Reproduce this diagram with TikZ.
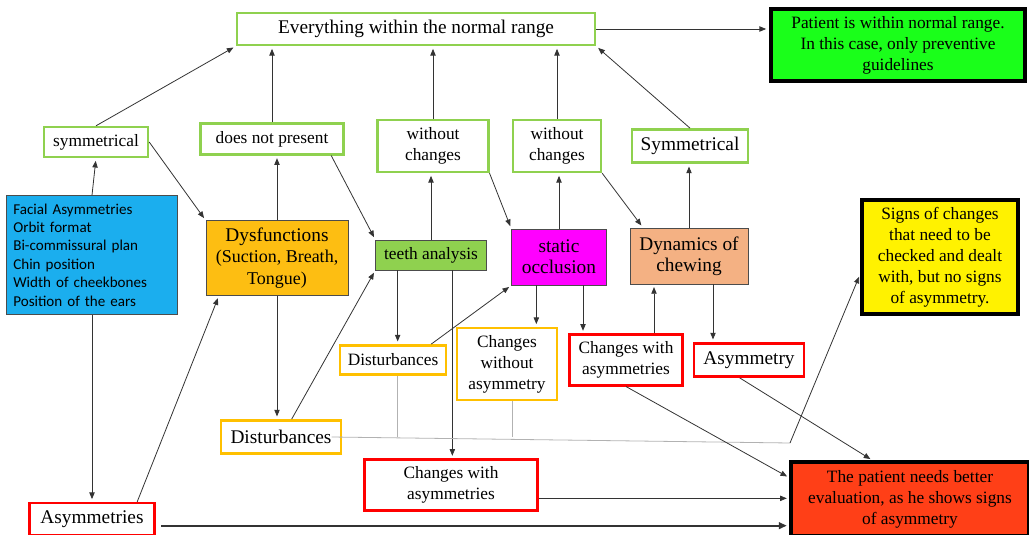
\documentclass[tikz,border=0pt]{standalone}
\usepackage{fontspec}
\setmainfont{Liberation Serif}
\newfontfamily\calib{Carlito}
\usepackage{tikz}
\usetikzlibrary{arrows.meta,positioning}

\definecolor{lgreen}{HTML}{8FD14F}
\definecolor{okgreen}{HTML}{1AFF1A}
\definecolor{gold}{HTML}{FFC000}
\definecolor{dysfill}{HTML}{FDBE12}
\definecolor{skyfill}{HTML}{1BAEEE}
\definecolor{peach}{HTML}{F4B183}
\definecolor{pinkfill}{HTML}{FF00FF}
\definecolor{alarm}{HTML}{FF3F17}

\begin{document}
\begin{tikzpicture}[x=0.75pt, y=-0.75pt]
    \tikzset{base/.style={rectangle, inner sep=0pt, align=center, font=\fontsize{13}{15.75}\selectfont}}
    \tikzset{big/.style={font=\fontsize{14.5}{16}\selectfont}}
    \tikzset{okbox/.style={base, draw=lgreen, line width=1.8pt, fill=white}}
    \tikzset{distbox/.style={base, draw=gold, line width=1.8pt, fill=white}}
    \tikzset{asymbox/.style={base, draw=red, line width=1.8pt, fill=white}}
    \tikzset{areabox/.style={base, big, draw=black!70, line width=0.6pt}}
    \tikzset{resultbox/.style={base, draw=black, line width=2.8pt}}
    \tikzset{link/.style={draw=black!80, line width=0.6pt, shorten >=2pt, -{Triangle[length=5pt, width=4pt]}}}
    \tikzset{joinline/.style={draw=black!30, line width=0.6pt}}

    \useasboundingbox (0,0) rectangle (1029,535);

    % TOP ROW
    \node[okbox, big, minimum width=268.5pt, minimum height=24pt] (top) at (416,29) {Everything within the normal range};
    \node[resultbox, fill=okgreen, minimum width=191pt, minimum height=54pt] (normal) at (898,45)
        {Patient is within normal range.\\In this case, only preventive\\guidelines};

    % OUTCOME NODES ABOVE THE AREAS
    \node[okbox, minimum width=78pt, minimum height=22.5pt] (sym) at (96,142) {symmetrical};
    \node[okbox, minimum width=107pt, minimum height=23pt] (dnp) at (272,139) {does not present};
    \node[okbox, minimum width=83pt, minimum height=39pt] (wcA) at (433,146) {without\\changes};
    \node[okbox, minimum width=66pt, minimum height=39pt] (wcB) at (557,146) {without\\changes};
    \node[okbox, big, minimum width=87pt, minimum height=25pt] (Sym) at (690,146) {Symmetrical};

    % AREAS OF ANALYSIS
    \node[base, draw=black!70, line width=0.6pt, fill=skyfill, minimum width=128pt, minimum height=89pt,
        text width=118pt, align=left, font=\calib\fontsize{11.3}{13.8}\selectfont] (facial) at (92,255)
        {Facial Asymmetries\\Orbit format\\Bi-commissural plan\\Chin position\\Width of cheekbones\\Position of the ears};
    \node[areabox, fill=dysfill, minimum width=106.5pt, minimum height=56pt] (dysf) at (277,258)
        {Dysfunctions\\{\fontsize{13.5}{16}\selectfont(Suction, Breath,}\\{\fontsize{13.5}{16}\selectfont Tongue)}};
    \node[base, draw=black!70, line width=0.6pt, fill=lgreen, minimum width=83pt, minimum height=22.5pt] (teeth) at (431,255) {teeth analysis};
    \node[areabox, fill=pinkfill, minimum width=71pt, minimum height=42pt] (static) at (559,257) {static\\occlusion};
    \node[areabox, fill=peach, minimum width=88.5pt, minimum height=42pt] (dyn) at (689,256) {Dynamics of\\chewing};
    \node[resultbox, fill=yellow, minimum width=117pt, minimum height=85pt] (signs) at (940,257)
        {Signs of changes\\that need to be\\checked and dealt\\with, but no signs\\of asymmetry.};

    % FINDINGS
    \node[distbox, minimum width=79.5pt, minimum height=22pt] (distS) at (393,360) {Disturbances};
    \node[distbox, minimum width=75pt, minimum height=54pt] (cwo) at (507,364) {Changes\\without\\asymmetry};
    \node[asymbox, minimum width=85pt, minimum height=38pt] (cwaU) at (626,360) {Changes with\\asymmetries};
    \node[asymbox, big, minimum width=82.5pt, minimum height=25pt] (asymR) at (749,360) {Asymmetry};
    \node[distbox, big, minimum width=90pt, minimum height=25pt] (distL) at (281,437) {Disturbances};
    \node[asymbox, minimum width=130pt, minimum height=38pt] (cwaL) at (451,485) {Changes with\\asymmetries};
    \node[asymbox, big, minimum width=94pt, minimum height=24pt] (asymL) at (92,519) {Asymmetries};
    \node[resultbox, fill=alarm, minimum width=178pt, minimum height=55pt] (better) at (910,499)
        {The patient needs better\\evaluation, as he shows signs\\of asymmetry};

    % ARROWS TO THE NORMAL RANGE
    \draw[link] (sym.north) -- (top.south west);
    \draw[link] (dnp.north) -- (dnp.north |- top.south);
    \draw[link] (wcA.north) -- (wcA.north |- top.south);
    \draw[link] (wcB.north) -- (wcB.north |- top.south);
    \draw[link] (Sym.north) -- (top.south east);
    \draw[link] (top.east) -- (top.east -| normal.west);

    % ARROWS FROM THE AREAS
    \draw[link] (facial.north) -- (sym.south);
    \draw[link] (sym.east) -- (dysf.north west);
    \draw[link] (dysf.north) -- (dysf.north |- dnp.south);
    \draw[link] ([xshift=-10pt]dnp.south east) -- (teeth.north west);
    \draw[link] (teeth.north) -- (teeth.north |- wcA.south);
    \draw[link] (wcA.south east) -- (static.north west);
    \draw[link] (static.north) -- (static.north |- wcB.south);
    \draw[link] (wcB.south east) -- ([xshift=10pt]dyn.north west);
    \draw[link] (dyn.north) -- (dyn.north |- Sym.south);
    \draw[link] (facial.south) -- (facial.south |- asymL.north);
    \draw[link] ([xshift=-14pt]asymL.north east) -- ([xshift=10pt]dysf.south west);
    \draw[link] (dysf.south) -- (dysf.south |- distL.north);
    \draw[link] ([xshift=8pt]distL.north) -- (teeth.south west);
    \draw[link] ([xshift=-25pt]teeth.south) -- ([xshift=-25pt]teeth.south |- distS.north);
    \draw[link] ([xshift=16pt]teeth.south) -- ([xshift=16pt]teeth.south |- cwaL.north);
    \draw[link] ([xshift=-12pt]distS.north east) -- (static.south west);
    \draw[link] ([xshift=-17pt]static.south) -- ([xshift=-17pt]static.south |- cwo.north);
    \draw[link] ([xshift=18pt]static.south) -- ([xshift=18pt]static.south |- cwaU.north);
    \draw[link] ([xshift=21pt]cwaU.north) -- ([xshift=21pt]cwaU.north |- dyn.south);
    \draw[link] ([xshift=18pt]dyn.south) -- ([xshift=18pt]dyn.south |- asymR.north);

    % DISTURBANCES TO THE SIGNS OF CHANGES
    \coordinate (bend) at (790,443);
    \draw[joinline] ([xshift=3pt]distS.south) -- ([xshift=3pt]distS.south |- distL.east);
    \draw[joinline] ([xshift=4pt]cwo.south) -- ([xshift=4pt]cwo.south |- distL.east);
    \draw[joinline] ([xshift=-8pt]distL.east) -- (bend);
    \draw[link] (bend) -- ([yshift=31pt]signs.south west);

    % ARROWS TO BETTER EVALUATION
    \draw[link] (cwaU.south) -- ([yshift=-13pt]better.north west);
    \draw[link] ([xshift=-7pt]asymR.south) -- ([xshift=-28pt]better.north);
    \draw[link] ([yshift=-10pt]cwaL.east) -- ([yshift=-10pt]cwaL.east -| better.west);
    \draw[link, line width=1.6pt, -{Triangle[length=6pt, width=5pt]}] ([yshift=-5pt, xshift=4pt]asymL.east) -- ([yshift=-5pt]asymL.east -| better.west);
\end{tikzpicture}
\end{document}
